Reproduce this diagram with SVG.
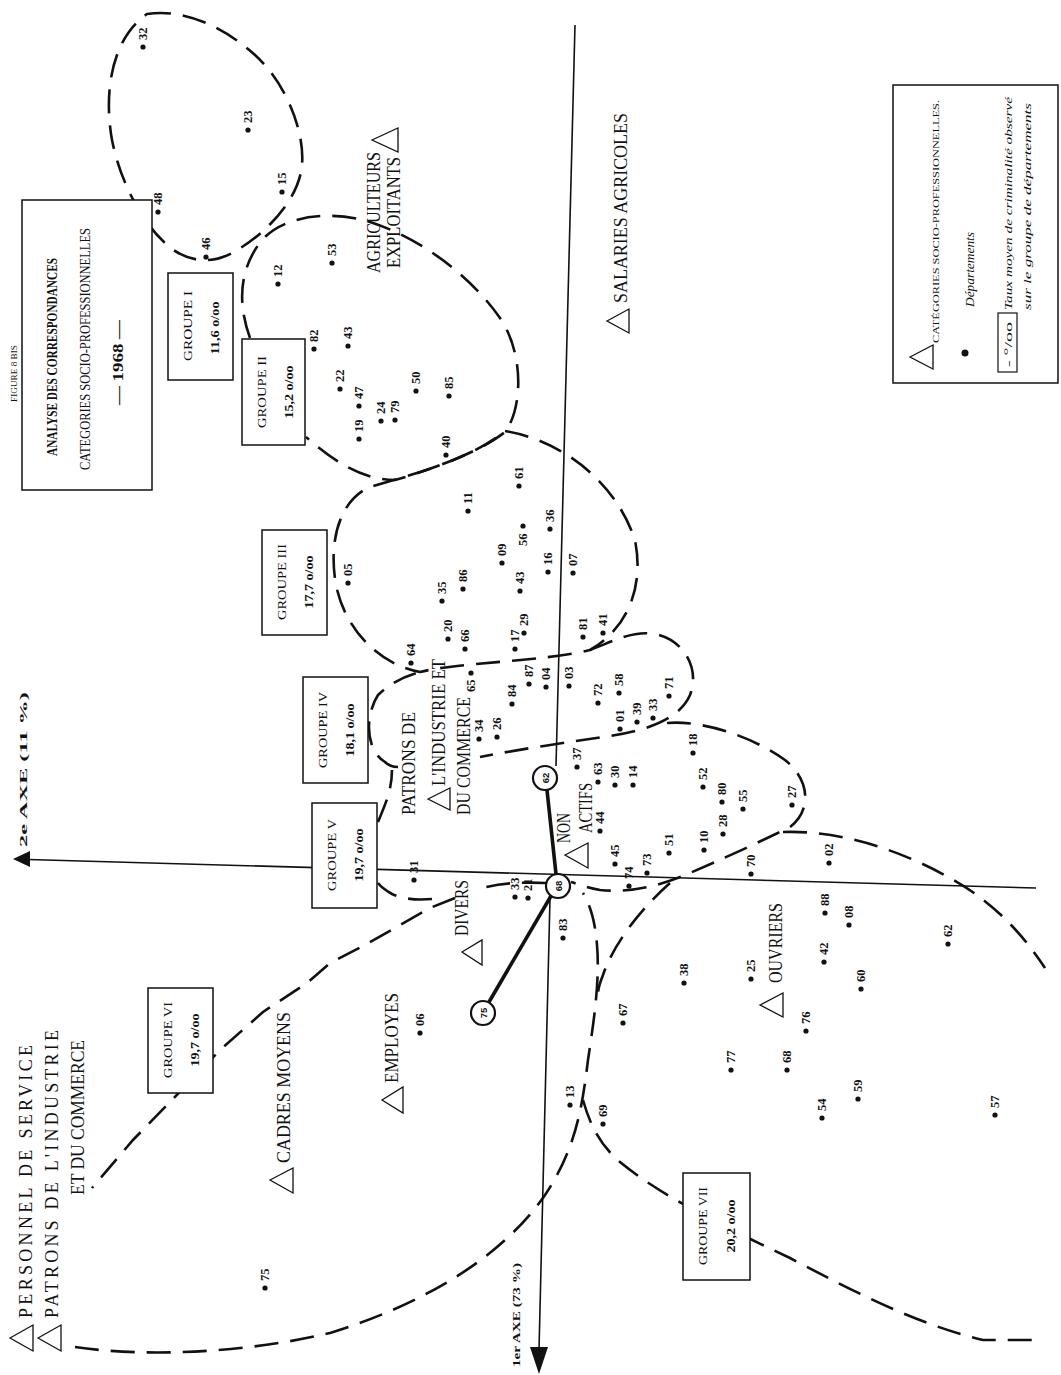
<svg xmlns="http://www.w3.org/2000/svg" width="1061" height="1375" viewBox="0 0 1061 1375">
<style>
.dash{fill:none;stroke:#111;stroke-width:2.6;stroke-dasharray:24 12;stroke-linecap:butt}
.axis{fill:none;stroke:#111;stroke-width:1.6}
.thick{fill:none;stroke:#111;stroke-width:3.6}
.box{fill:#fff;stroke:#111;stroke-width:1.5}
.d{fill:#111}
.n{font-family:"Liberation Serif",serif;font-size:12.5px;font-weight:bold;fill:#111}
.cat{font-family:"Liberation Serif",serif;font-size:18px;fill:#111}
.grp{font-family:"Liberation Serif",serif;font-size:12.5px;fill:#111;text-anchor:middle}
.rate{font-family:"Liberation Serif",serif;font-size:11.5px;font-weight:bold;fill:#111;text-anchor:middle}
.tri{fill:none;stroke:#111;stroke-width:1.3}
.circ{fill:#fff;stroke:#111;stroke-width:2.2}
.cl{font-family:"Liberation Sans",sans-serif;font-size:9.5px;font-weight:bold;fill:#111;text-anchor:middle}
.it{font-family:"Liberation Serif",serif;font-style:italic;fill:#111}
.ttl{font-family:"Liberation Serif",serif;fill:#111}
</style>

<g id="connectors">
  <!-- axes -->
  <line class="axis" x1="28" y1="859.5" x2="1036" y2="888"/>
  <polygon points="13,859 30,851 30,867" fill="#111"/>
  <line class="axis" x1="575" y1="25" x2="556" y2="766"/>
  <line class="axis" x1="550" y1="898" x2="539" y2="1350"/>
  <polygon points="530,1347 548,1347 539,1374" fill="#111"/>

  <!-- group boundaries -->
  <path id="b-g1" class="dash" d="M147,14 C185,8 225,28 255,55 C285,82 305,130 302,165 C299,200 265,235 232,253 C210,265 185,262 165,243 C140,220 120,180 112,140 C104,95 110,40 147,14 Z"/>
  <path id="b-g2" class="dash" d="M250,338 C238,305 238,270 262,240 C285,215 330,210 370,222 C420,238 470,275 500,318 C525,355 522,410 505,432 C480,452 430,470 395,480 C360,480 330,458 306,437"/>
  <path id="b-g3" class="dash" d="M505,431 C560,440 615,480 635,540 C645,590 625,630 590,650 C540,662 460,662 420,672 C380,665 345,630 336,585 C328,540 340,500 370,487 C410,475 470,460 505,431 Z"/>
  <path id="b-g4" class="dash" d="M590,650 C612,642 632,630 655,634 C685,640 700,670 690,695 C680,718 650,730 610,736 C570,742 520,749 480,757 M398,767 C392,767 388,765 385,762 C365,750 365,715 378,695 C390,683 405,676 420,672"/>
  <path id="b-g5" class="dash" d="M378,822 C385,805 392,790 392,770 M667,723 C700,720 750,735 785,760 C810,780 812,810 790,827 C760,842 720,860 690,873 C660,886 630,893 600,890 C585,887 578,884 571,882 M546,883 C520,882 500,883 478,889 M432,899 C420,900 405,900 392,894 C385,890 381,887 378,883"/>
  <path id="b-g6" class="dash" d="M455,898 L430,908 L400,925 L365,945 L330,963 L307,983 L263,1012 L220,1050 L170,1102 L133,1140 L92,1188 M75,1347 C150,1358 250,1352 330,1333 C420,1305 500,1260 545,1195 C575,1150 582,1110 588,1060 C594,1020 600,980 597,945 C595,920 590,905 583,893"/>
  <path id="b-g7" class="dash" d="M670,883 C645,905 615,940 603,975 C599,985 598,990 598,995 M583,1100 C590,1125 600,1145 620,1162 C660,1195 720,1225 790,1258 C860,1295 920,1325 983,1340 L1040,1340 M783,832 C840,830 900,850 950,878 C990,900 1020,930 1045,968"/>

  <!-- trajectory 62-68-75 -->
  <line class="thick" x1="547" y1="790" x2="556" y2="874"/>
  <line class="thick" x1="551" y1="896" x2="489" y2="1002"/>
</g>

<!-- title -->
<g id="title">
  <text class="ttl" font-size="8" transform="translate(17,402) rotate(-90)" textLength="57" lengthAdjust="spacingAndGlyphs">FIGURE 8 BIS</text>
  <rect class="box" x="22" y="200" width="130" height="290"/>
  <text class="ttl" font-size="14.5" font-weight="bold" transform="translate(57,456) rotate(-90)" textLength="198" lengthAdjust="spacingAndGlyphs">ANALYSE DES CORRESPONDANCES</text>
  <text class="ttl" font-size="14" transform="translate(90,470) rotate(-90)" textLength="242" lengthAdjust="spacingAndGlyphs">CATEGORIES   SOCIO-PROFESSIONNELLES</text>
  <text class="ttl" font-size="15" font-weight="bold" transform="translate(123,405) rotate(-90)" textLength="85" lengthAdjust="spacingAndGlyphs">—  1968  —</text>
</g>

<!-- legend -->
<g id="legend">
  <rect class="box" x="893" y="85" width="165" height="298"/>
  <polygon class="tri" points="910,357 933,345 933,369"/>
  <text class="ttl" font-size="9" transform="translate(939,343) rotate(-90)" textLength="243" lengthAdjust="spacingAndGlyphs">CATÉGORIES SOCIO-PROFESSIONNELLES.</text>
  <circle cx="965" cy="353" r="3.5" fill="#111"/>
  <text class="it" font-size="12" transform="translate(974,307) rotate(-90)" textLength="75" lengthAdjust="spacingAndGlyphs">Départements</text>
  <rect x="998" y="313" width="19" height="59" fill="none" stroke="#111" stroke-width="1.2"/>
  <text class="ttl" font-size="11" transform="translate(1012,367) rotate(-90)" textLength="45" lengthAdjust="spacingAndGlyphs">- °/oo</text>
  <text class="it" font-size="11" transform="translate(1012,310) rotate(-90)" textLength="213" lengthAdjust="spacingAndGlyphs">Taux moyen de criminalité observé</text>
  <text class="it" font-size="11" transform="translate(1031,310) rotate(-90)" textLength="207" lengthAdjust="spacingAndGlyphs">sur  le  groupe  de  départements</text>
</g>

<!-- axis labels -->
<g id="axis-labels">
  <text class="ttl" font-size="9.5" font-weight="bold" transform="translate(27,847) rotate(-90)" textLength="155" lengthAdjust="spacingAndGlyphs">2e    AXE    (11 %)</text>
  <text class="ttl" font-size="10" font-weight="bold" transform="translate(520,1367) rotate(-90)" textLength="104" lengthAdjust="spacingAndGlyphs">1er  AXE  (73 %)</text>
</g>

<!-- group boxes -->
<g id="g1"><rect class="box" x="168" y="273" width="65" height="107"/><text class="grp" transform="translate(192,326) rotate(-90)" textLength="70" lengthAdjust="spacingAndGlyphs">GROUPE  I</text><text class="rate" transform="translate(219,328) rotate(-90)" textLength="53" lengthAdjust="spacingAndGlyphs">11,6 o/oo</text></g>
<g id="g2"><rect class="box" x="242" y="339" width="63" height="106"/><text class="grp" transform="translate(266,392) rotate(-90)" textLength="72" lengthAdjust="spacingAndGlyphs">GROUPE  II</text><text class="rate" transform="translate(293,392) rotate(-90)" textLength="53" lengthAdjust="spacingAndGlyphs">15,2 o/oo</text></g>
<g id="g3"><rect class="box" x="262" y="530" width="65" height="105"/><text class="grp" transform="translate(286,582) rotate(-90)" textLength="76" lengthAdjust="spacingAndGlyphs">GROUPE  III</text><text class="rate" transform="translate(313,582) rotate(-90)" textLength="53" lengthAdjust="spacingAndGlyphs">17,7 o/oo</text></g>
<g id="g4"><rect class="box" x="303" y="677" width="65" height="106"/><text class="grp" transform="translate(327,730) rotate(-90)" textLength="76" lengthAdjust="spacingAndGlyphs">GROUPE  IV</text><text class="rate" transform="translate(354,730) rotate(-90)" textLength="53" lengthAdjust="spacingAndGlyphs">18,1 o/oo</text></g>
<g id="g5"><rect class="box" x="312" y="803" width="65" height="105"/><text class="grp" transform="translate(336,855) rotate(-90)" textLength="72" lengthAdjust="spacingAndGlyphs">GROUPE  V</text><text class="rate" transform="translate(363,855) rotate(-90)" textLength="53" lengthAdjust="spacingAndGlyphs">19,7 o/oo</text></g>
<g id="g6"><rect class="box" x="148" y="988" width="65" height="105"/><text class="grp" transform="translate(172,1040) rotate(-90)" textLength="76" lengthAdjust="spacingAndGlyphs">GROUPE  VI</text><text class="rate" transform="translate(199,1040) rotate(-90)" textLength="53" lengthAdjust="spacingAndGlyphs">19,7 o/oo</text></g>
<g id="g7"><rect class="box" x="683" y="1173" width="67" height="107"/><text class="grp" transform="translate(707,1226) rotate(-90)" textLength="78" lengthAdjust="spacingAndGlyphs">GROUPE  VII</text><text class="rate" transform="translate(735,1226) rotate(-90)" textLength="53" lengthAdjust="spacingAndGlyphs">20,2 o/oo</text></g>

<!-- circles -->
<g id="c62"><circle class="circ" cx="545" cy="778" r="12"/><text class="cl" transform="translate(548.5,778) rotate(-90)">62</text></g>
<g id="c68"><circle class="circ" cx="558" cy="886" r="12"/><text class="cl" transform="translate(561.5,886) rotate(-90)">68</text></g>
<g id="c75"><circle class="circ" cx="483" cy="1013" r="12"/><text class="cl" transform="translate(486.5,1013) rotate(-90)">75</text></g>

<!-- socio-professional categories -->
<g id="cat-personnel"><polygon class="tri" points="10,1338 33,1325 33,1351"/><text class="cat" font-size="17.5" transform="translate(32,1318) rotate(-90)" textLength="273" lengthAdjust="spacing">PERSONNEL DE SERVICE</text></g>
<g id="cat-patrons2"><polygon class="tri" points="38,1338 61,1325 61,1351"/><text class="cat" font-size="17.5" transform="translate(58,1318) rotate(-90)" textLength="288" lengthAdjust="spacing">PATRONS DE L'INDUSTRIE</text><text class="cat" font-size="17" transform="translate(84,1195) rotate(-90)" textLength="155" lengthAdjust="spacingAndGlyphs">ET DU COMMERCE</text></g>
<g id="cat-cadres"><polygon class="tri" points="270,1180 293,1168 293,1193"/><text class="cat" transform="translate(290,1163) rotate(-90)" textLength="151" lengthAdjust="spacingAndGlyphs">CADRES  MOYENS</text></g>
<g id="cat-employes"><polygon class="tri" points="382,1100 403,1087 403,1113"/><text class="cat" transform="translate(398,1083) rotate(-90)" textLength="90" lengthAdjust="spacingAndGlyphs">EMPLOYES</text></g>
<g id="cat-divers"><polygon class="tri" points="462,952 482,940 482,965"/><text class="cat" transform="translate(468,936) rotate(-90)" textLength="56" lengthAdjust="spacingAndGlyphs">DIVERS</text></g>
<g id="cat-nonactifs"><polygon class="tri" points="565,855 588,843 588,868"/><text class="cat" transform="translate(570,843) rotate(-90)" textLength="30" lengthAdjust="spacingAndGlyphs">NON</text><text class="cat" transform="translate(592,833) rotate(-90)" textLength="50" lengthAdjust="spacingAndGlyphs">ACTIFS</text></g>
<g id="cat-ouvriers"><polygon class="tri" points="760,1005 783,993 783,1017"/><text class="cat" transform="translate(782,983) rotate(-90)" textLength="80" lengthAdjust="spacingAndGlyphs">OUVRIERS</text></g>
<g id="cat-patrons"><polygon class="tri" points="428,799 450,788 450,810"/><text class="cat" transform="translate(415,815) rotate(-90)" textLength="103" lengthAdjust="spacingAndGlyphs">PATRONS DE</text><text class="cat" transform="translate(445,786) rotate(-90)" textLength="127" lengthAdjust="spacingAndGlyphs">L'INDUSTRIE ET</text><text class="cat" transform="translate(470,815) rotate(-90)" textLength="118" lengthAdjust="spacingAndGlyphs">DU COMMERCE</text></g>
<g id="cat-agriculteurs"><polygon class="tri" points="372,140 398,128 398,152"/><text class="cat" transform="translate(380,273) rotate(-90)" textLength="121" lengthAdjust="spacingAndGlyphs">AGRICULTEURS</text><text class="cat" transform="translate(400,268) rotate(-90)" textLength="111" lengthAdjust="spacingAndGlyphs">EXPLOITANTS</text></g>
<g id="cat-salaries"><polygon class="tri" points="607,321 629,309 629,333"/><text class="cat" transform="translate(627,303) rotate(-90)" textLength="190" lengthAdjust="spacingAndGlyphs">SALARIES  AGRICOLES</text></g>

<!-- departements -->
<g id="departements">
<g id="dep-32"><circle class="d" cx="143" cy="47" r="2.6"/><text class="n" transform="translate(147,40) rotate(-90)">32</text></g>
<g id="dep-23"><circle class="d" cx="248" cy="130" r="2.6"/><text class="n" transform="translate(252,123) rotate(-90)">23</text></g>
<g id="dep-15"><circle class="d" cx="282" cy="192" r="2.6"/><text class="n" transform="translate(286,185) rotate(-90)">15</text></g>
<g id="dep-48"><circle class="d" cx="158" cy="212" r="2.6"/><text class="n" transform="translate(162,205) rotate(-90)">48</text></g>
<g id="dep-46"><circle class="d" cx="206" cy="257" r="2.6"/><text class="n" transform="translate(210,250) rotate(-90)">46</text></g>
<g id="dep-12"><circle class="d" cx="278" cy="284" r="2.6"/><text class="n" transform="translate(282,277) rotate(-90)">12</text></g>
<g id="dep-53"><circle class="d" cx="332" cy="263" r="2.6"/><text class="n" transform="translate(336,256) rotate(-90)">53</text></g>
<g id="dep-82"><circle class="d" cx="314" cy="349" r="2.6"/><text class="n" transform="translate(318,342) rotate(-90)">82</text></g>
<g id="dep-43a"><circle class="d" cx="348" cy="346" r="2.6"/><text class="n" transform="translate(352,339) rotate(-90)">43</text></g>
<g id="dep-22"><circle class="d" cx="340" cy="389" r="2.6"/><text class="n" transform="translate(344,382) rotate(-90)">22</text></g>
<g id="dep-47"><circle class="d" cx="359" cy="406" r="2.6"/><text class="n" transform="translate(363,399) rotate(-90)">47</text></g>
<g id="dep-19"><circle class="d" cx="359" cy="439" r="2.6"/><text class="n" transform="translate(363,432) rotate(-90)">19</text></g>
<g id="dep-24"><circle class="d" cx="381" cy="421" r="2.6"/><text class="n" transform="translate(385,414) rotate(-90)">24</text></g>
<g id="dep-79"><circle class="d" cx="395" cy="420" r="2.6"/><text class="n" transform="translate(399,413) rotate(-90)">79</text></g>
<g id="dep-50"><circle class="d" cx="416" cy="391" r="2.6"/><text class="n" transform="translate(420,384) rotate(-90)">50</text></g>
<g id="dep-85"><circle class="d" cx="449" cy="396" r="2.6"/><text class="n" transform="translate(453,389) rotate(-90)">85</text></g>
<g id="dep-40"><circle class="d" cx="446" cy="455" r="2.6"/><text class="n" transform="translate(450,448) rotate(-90)">40</text></g>
<g id="dep-61"><circle class="d" cx="519" cy="486" r="2.6"/><text class="n" transform="translate(523,479) rotate(-90)">61</text></g>
<g id="dep-11"><circle class="d" cx="468" cy="511" r="2.6"/><text class="n" transform="translate(472,504) rotate(-90)">11</text></g>
<g id="dep-56"><circle class="d" cx="523" cy="526" r="2.6"/><text class="n" transform="translate(527,546) rotate(-90)">56</text></g>
<g id="dep-36"><circle class="d" cx="550" cy="529" r="2.6"/><text class="n" transform="translate(554,522) rotate(-90)">36</text></g>
<g id="dep-09"><circle class="d" cx="502" cy="563" r="2.6"/><text class="n" transform="translate(506,556) rotate(-90)">09</text></g>
<g id="dep-16"><circle class="d" cx="548" cy="572" r="2.6"/><text class="n" transform="translate(552,565) rotate(-90)">16</text></g>
<g id="dep-07"><circle class="d" cx="573" cy="573" r="2.6"/><text class="n" transform="translate(577,566) rotate(-90)">07</text></g>
<g id="dep-05"><circle class="d" cx="348" cy="583" r="2.6"/><text class="n" transform="translate(352,576) rotate(-90)">05</text></g>
<g id="dep-35"><circle class="d" cx="442" cy="601" r="2.6"/><text class="n" transform="translate(446,594) rotate(-90)">35</text></g>
<g id="dep-86"><circle class="d" cx="463" cy="589" r="2.6"/><text class="n" transform="translate(467,582) rotate(-90)">86</text></g>
<g id="dep-43b"><circle class="d" cx="520" cy="591" r="2.6"/><text class="n" transform="translate(524,584) rotate(-90)">43</text></g>
<g id="dep-20"><circle class="d" cx="448" cy="639" r="2.6"/><text class="n" transform="translate(452,632) rotate(-90)">20</text></g>
<g id="dep-66"><circle class="d" cx="465" cy="649" r="2.6"/><text class="n" transform="translate(469,642) rotate(-90)">66</text></g>
<g id="dep-29"><circle class="d" cx="524" cy="633" r="2.6"/><text class="n" transform="translate(528,626) rotate(-90)">29</text></g>
<g id="dep-17"><circle class="d" cx="515" cy="649" r="2.6"/><text class="n" transform="translate(519,642) rotate(-90)">17</text></g>
<g id="dep-81"><circle class="d" cx="583" cy="637" r="2.6"/><text class="n" transform="translate(587,630) rotate(-90)">81</text></g>
<g id="dep-41"><circle class="d" cx="603" cy="633" r="2.6"/><text class="n" transform="translate(607,626) rotate(-90)">41</text></g>
<g id="dep-64"><circle class="d" cx="411" cy="663" r="2.6"/><text class="n" transform="translate(415,656) rotate(-90)">64</text></g>
<g id="dep-65"><circle class="d" cx="471" cy="673" r="2.6"/><text class="n" transform="translate(475,692) rotate(-90)">65</text></g>
<g id="dep-87"><circle class="d" cx="529" cy="684" r="2.6"/><text class="n" transform="translate(533,677) rotate(-90)">87</text></g>
<g id="dep-04"><circle class="d" cx="546" cy="687" r="2.6"/><text class="n" transform="translate(550,680) rotate(-90)">04</text></g>
<g id="dep-03"><circle class="d" cx="569" cy="686" r="2.6"/><text class="n" transform="translate(573,679) rotate(-90)">03</text></g>
<g id="dep-84"><circle class="d" cx="512" cy="704" r="2.6"/><text class="n" transform="translate(516,697) rotate(-90)">84</text></g>
<g id="dep-72"><circle class="d" cx="598" cy="703" r="2.6"/><text class="n" transform="translate(602,696) rotate(-90)">72</text></g>
<g id="dep-58"><circle class="d" cx="619" cy="693" r="2.6"/><text class="n" transform="translate(623,686) rotate(-90)">58</text></g>
<g id="dep-34"><circle class="d" cx="479" cy="739" r="2.6"/><text class="n" transform="translate(483,732) rotate(-90)">34</text></g>
<g id="dep-26"><circle class="d" cx="497" cy="737" r="2.6"/><text class="n" transform="translate(501,730) rotate(-90)">26</text></g>
<g id="dep-01"><circle class="d" cx="620" cy="729" r="2.6"/><text class="n" transform="translate(624,722) rotate(-90)">01</text></g>
<g id="dep-39"><circle class="d" cx="637" cy="722" r="2.6"/><text class="n" transform="translate(641,715) rotate(-90)">39</text></g>
<g id="dep-33a"><circle class="d" cx="653" cy="718" r="2.6"/><text class="n" transform="translate(657,711) rotate(-90)">33</text></g>
<g id="dep-71"><circle class="d" cx="669" cy="696" r="2.6"/><text class="n" transform="translate(673,689) rotate(-90)">71</text></g>
<g id="dep-37"><circle class="d" cx="577" cy="767" r="2.6"/><text class="n" transform="translate(581,760) rotate(-90)">37</text></g>
<g id="dep-63"><circle class="d" cx="598" cy="782" r="2.6"/><text class="n" transform="translate(602,775) rotate(-90)">63</text></g>
<g id="dep-30"><circle class="d" cx="615" cy="785" r="2.6"/><text class="n" transform="translate(619,778) rotate(-90)">30</text></g>
<g id="dep-14"><circle class="d" cx="633" cy="785" r="2.6"/><text class="n" transform="translate(637,778) rotate(-90)">14</text></g>
<g id="dep-18"><circle class="d" cx="693" cy="753" r="2.6"/><text class="n" transform="translate(697,746) rotate(-90)">18</text></g>
<g id="dep-52"><circle class="d" cx="703" cy="787" r="2.6"/><text class="n" transform="translate(707,780) rotate(-90)">52</text></g>
<g id="dep-80"><circle class="d" cx="722" cy="802" r="2.6"/><text class="n" transform="translate(726,795) rotate(-90)">80</text></g>
<g id="dep-44"><circle class="d" cx="600" cy="831" r="2.6"/><text class="n" transform="translate(604,824) rotate(-90)">44</text></g>
<g id="dep-28"><circle class="d" cx="723" cy="834" r="2.6"/><text class="n" transform="translate(727,827) rotate(-90)">28</text></g>
<g id="dep-10"><circle class="d" cx="704" cy="850" r="2.6"/><text class="n" transform="translate(708,843) rotate(-90)">10</text></g>
<g id="dep-51"><circle class="d" cx="669" cy="853" r="2.6"/><text class="n" transform="translate(673,846) rotate(-90)">51</text></g>
<g id="dep-45"><circle class="d" cx="615" cy="864" r="2.6"/><text class="n" transform="translate(619,857) rotate(-90)">45</text></g>
<g id="dep-73"><circle class="d" cx="647" cy="873" r="2.6"/><text class="n" transform="translate(651,866) rotate(-90)">73</text></g>
<g id="dep-74"><circle class="d" cx="629" cy="886" r="2.6"/><text class="n" transform="translate(633,879) rotate(-90)">74</text></g>
<g id="dep-31"><circle class="d" cx="414" cy="880" r="2.6"/><text class="n" transform="translate(418,873) rotate(-90)">31</text></g>
<g id="dep-33b"><circle class="d" cx="515" cy="897" r="2.6"/><text class="n" transform="translate(519,890) rotate(-90)">33</text></g>
<g id="dep-21"><circle class="d" cx="528" cy="898" r="2.6"/><text class="n" transform="translate(532,891) rotate(-90)">21</text></g>
<g id="dep-55"><circle class="d" cx="743" cy="809" r="2.6"/><text class="n" transform="translate(747,802) rotate(-90)">55</text></g>
<g id="dep-27"><circle class="d" cx="792" cy="805" r="2.6"/><text class="n" transform="translate(796,798) rotate(-90)">27</text></g>
<g id="dep-70"><circle class="d" cx="751" cy="874" r="2.6"/><text class="n" transform="translate(755,867) rotate(-90)">70</text></g>
<g id="dep-02"><circle class="d" cx="829" cy="863" r="2.6"/><text class="n" transform="translate(833,856) rotate(-90)">02</text></g>
<g id="dep-83"><circle class="d" cx="563" cy="938" r="2.6"/><text class="n" transform="translate(567,931) rotate(-90)">83</text></g>
<g id="dep-88"><circle class="d" cx="825" cy="913" r="2.6"/><text class="n" transform="translate(829,906) rotate(-90)">88</text></g>
<g id="dep-08"><circle class="d" cx="849" cy="925" r="2.6"/><text class="n" transform="translate(853,918) rotate(-90)">08</text></g>
<g id="dep-62"><circle class="d" cx="948" cy="944" r="2.6"/><text class="n" transform="translate(952,937) rotate(-90)">62</text></g>
<g id="dep-42"><circle class="d" cx="824" cy="962" r="2.6"/><text class="n" transform="translate(828,955) rotate(-90)">42</text></g>
<g id="dep-38"><circle class="d" cx="684" cy="983" r="2.6"/><text class="n" transform="translate(688,976) rotate(-90)">38</text></g>
<g id="dep-25"><circle class="d" cx="751" cy="979" r="2.6"/><text class="n" transform="translate(755,972) rotate(-90)">25</text></g>
<g id="dep-60"><circle class="d" cx="861" cy="989" r="2.6"/><text class="n" transform="translate(865,982) rotate(-90)">60</text></g>
<g id="dep-67"><circle class="d" cx="623" cy="1023" r="2.6"/><text class="n" transform="translate(627,1016) rotate(-90)">67</text></g>
<g id="dep-76"><circle class="d" cx="806" cy="1031" r="2.6"/><text class="n" transform="translate(810,1024) rotate(-90)">76</text></g>
<g id="dep-77"><circle class="d" cx="731" cy="1070" r="2.6"/><text class="n" transform="translate(735,1063) rotate(-90)">77</text></g>
<g id="dep-68"><circle class="d" cx="787" cy="1070" r="2.6"/><text class="n" transform="translate(791,1063) rotate(-90)">68</text></g>
<g id="dep-59"><circle class="d" cx="858" cy="1099" r="2.6"/><text class="n" transform="translate(862,1092) rotate(-90)">59</text></g>
<g id="dep-54"><circle class="d" cx="822" cy="1118" r="2.6"/><text class="n" transform="translate(826,1111) rotate(-90)">54</text></g>
<g id="dep-57"><circle class="d" cx="995" cy="1115" r="2.6"/><text class="n" transform="translate(999,1108) rotate(-90)">57</text></g>
<g id="dep-13"><circle class="d" cx="570" cy="1105" r="2.6"/><text class="n" transform="translate(574,1098) rotate(-90)">13</text></g>
<g id="dep-69"><circle class="d" cx="603" cy="1124" r="2.6"/><text class="n" transform="translate(607,1117) rotate(-90)">69</text></g>
<g id="dep-06"><circle class="d" cx="420" cy="1033" r="2.6"/><text class="n" transform="translate(424,1026) rotate(-90)">06</text></g>
<g id="dep-75"><circle class="d" cx="265" cy="1288" r="2.6"/><text class="n" transform="translate(269,1281) rotate(-90)">75</text></g>
</g>
</svg>
